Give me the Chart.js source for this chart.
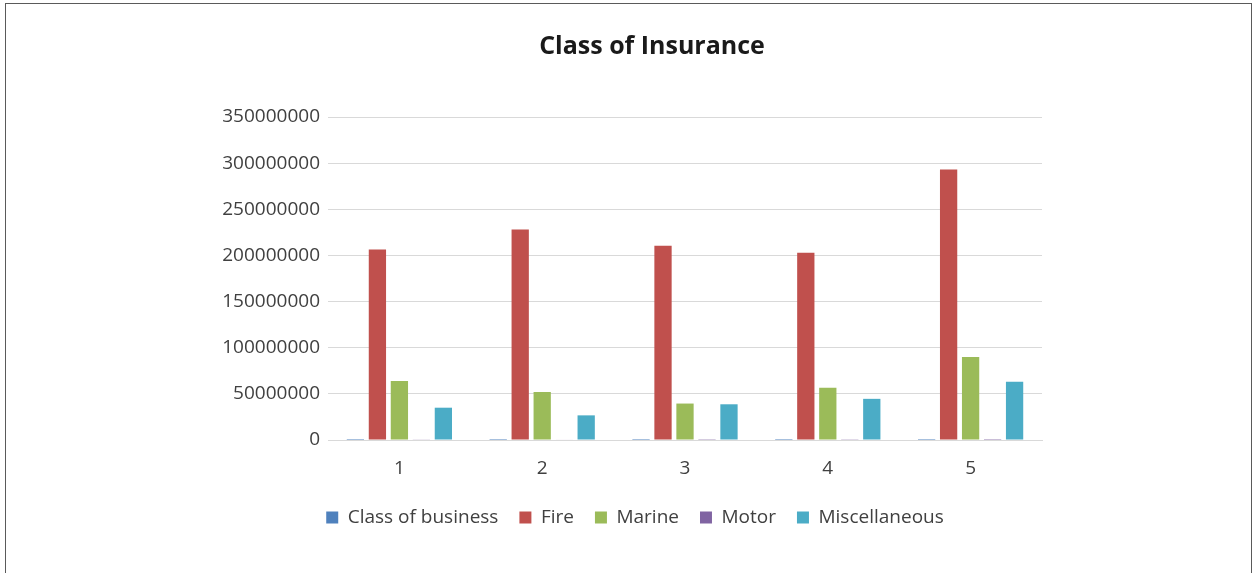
<!DOCTYPE html>
<html>
<head>
<meta charset="utf-8">
<script src="https://cdn.jsdelivr.net/npm/chart.js@4.4.1/dist/chart.umd.min.js"></script>
<style>
html,body{margin:0;padding:0;background:#fff;overflow:hidden;}
#frame{position:absolute;left:5px;top:3px;width:1247px;height:620px;border:1px solid #5a5a5a;box-sizing:border-box;}
#wrap{position:absolute;left:0;top:0;width:1255px;height:573px;}
#title{position:absolute;left:452px;width:400px;top:27px;text-align:center;font:bold 25px 'Open Sans','Liberation Sans',sans-serif;color:#1a1a1a;line-height:34px;}
</style>
</head>
<body>
<div id="frame"></div>
<div id="wrap"><canvas id="c"></canvas></div>
<div id="title">Class of Insurance</div>
<script>
const categories = ['1', '2', '3', '4', '5'];
const classOfBusiness = [1, 2, 3, 4, 5];
const fire = [206500000, 228000000, 210500000, 203000000, 293000000];
const marine = [63800000, 52000000, 39500000, 56500000, 90000000];
const motor = [400000, 500000, 900000, 800000, 1000000];
const miscellaneous = [35000000, 26700000, 38700000, 44600000, 63000000];
const yTicks = [0, 50000000, 100000000, 150000000, 200000000, 250000000, 300000000, 350000000];

const FONT = "'Open Sans', 'Liberation Sans', sans-serif";
const mk = (label, data, color) => ({
  label, data, backgroundColor: color, borderColor: color, borderWidth: 0,
  categoryPercentage: 0.77, barPercentage: 0.786
});

const legendShift = {
  id: 'legendShift',
  afterLayout(chart) {
    if (chart.legend) { chart.legend.left += 14; chart.legend.right += 14; }
  }
};

new Chart(document.getElementById('c'), {
  type: 'bar',
  data: {
    labels: categories,
    datasets: [
      mk('Class of business', classOfBusiness, '#4F81BD'),
      mk('Fire', fire, '#C0504D'),
      mk('Marine', marine, '#9BBB59'),
      mk('Motor', motor, '#8064A2'),
      mk('Miscellaneous', miscellaneous, '#4BACC6')
    ]
  },
  plugins: [legendShift],
  options: {
    responsive: true,
    maintainAspectRatio: false,
    animation: false,
    layout: { padding: { left: 200, right: 213, top: 117, bottom: 36 } },
    plugins: {
      title: { display: false },
      legend: {
        position: 'bottom',
        labels: {
          boxWidth: 12, boxHeight: 12, padding: 21,
          color: '#404040',
          font: { family: FONT, size: 19 }
        }
      },
      tooltip: { enabled: false }
    },
    scales: {
      x: {
        afterFit: (s) => { s.height = 47; },
        grid: { display: false, drawTicks: false },
        border: { display: true, color: '#D9D9D9', width: 1 },
        ticks: { color: '#404040', font: { family: FONT, size: 19 }, padding: 17 }
      },
      y: {
        min: 0, max: 350000000,
        afterFit: (s) => { s.width = 128; },
        afterBuildTicks: (s) => { s.ticks = yTicks.map(v => ({ value: v })); },
        grid: { color: '#D9D9D9', lineWidth: 1, drawTicks: false },
        border: { display: false },
        ticks: {
          color: '#404040', font: { family: FONT, size: 19 }, padding: 8,
          callback: (v) => String(v)
        }
      }
    }
  }
});
</script>
</body>
</html>
